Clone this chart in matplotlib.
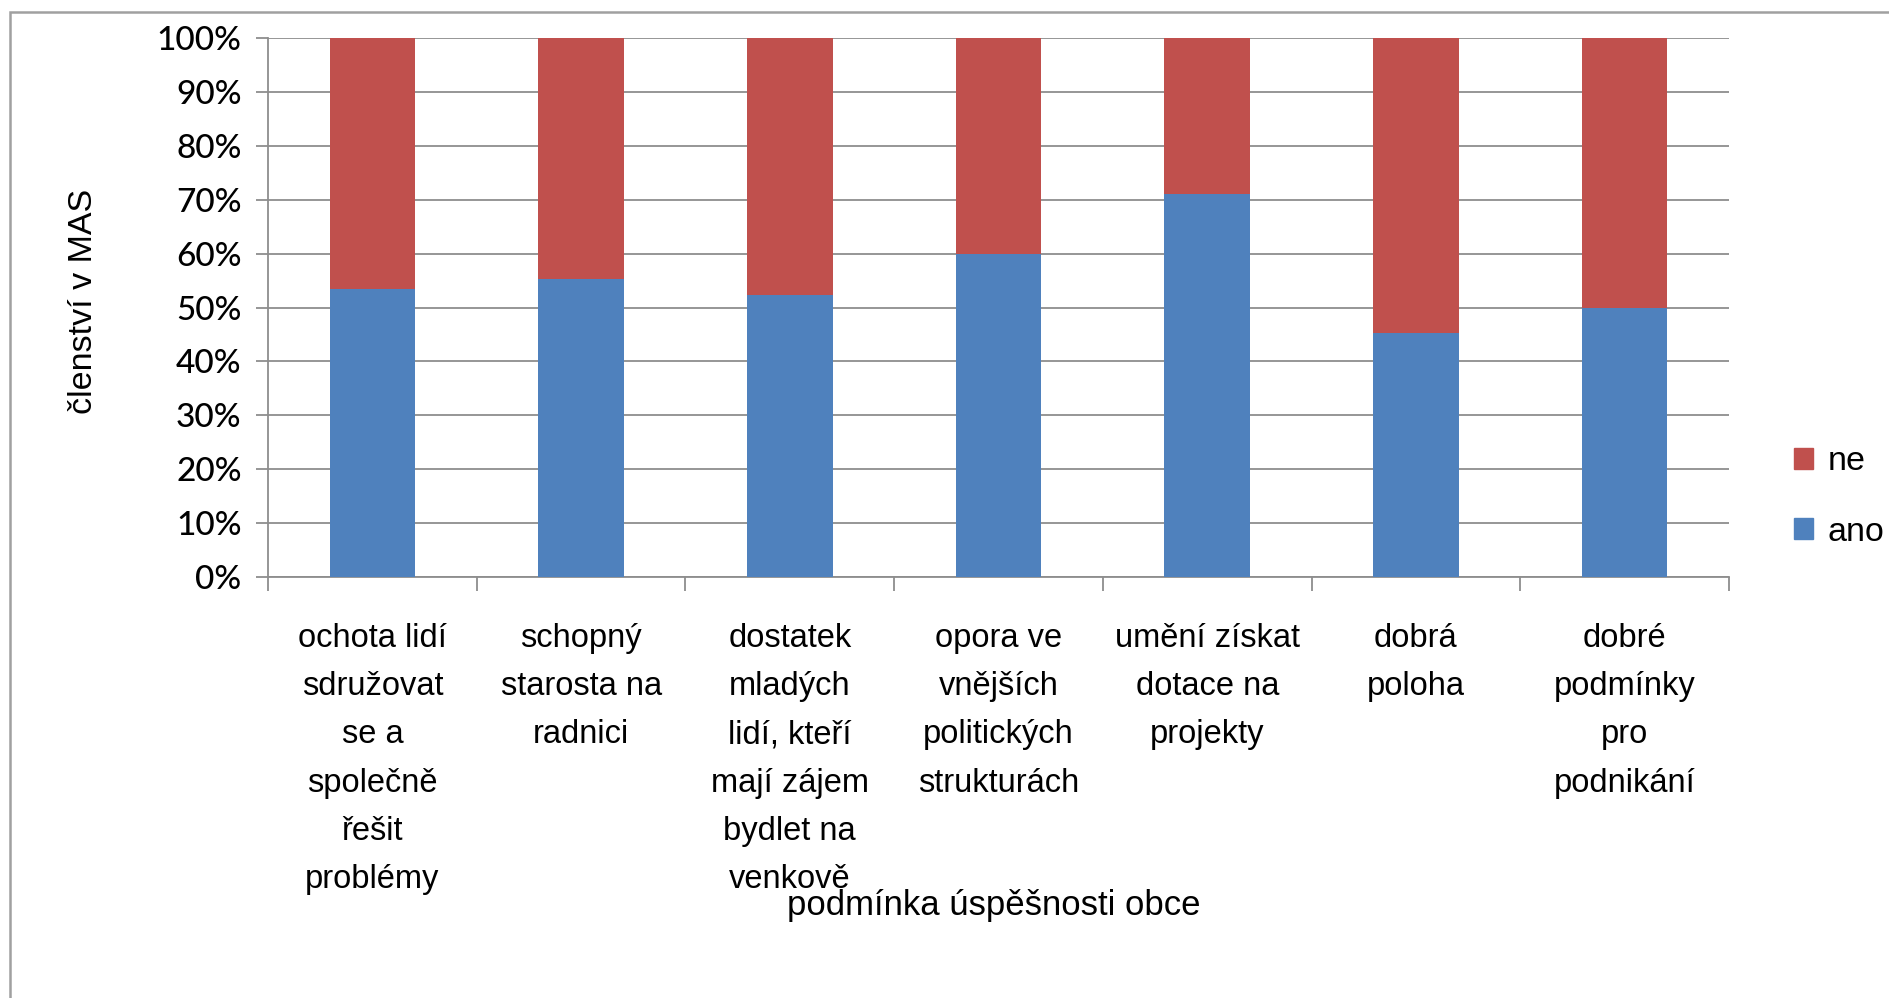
import matplotlib
matplotlib.use("Agg")
import matplotlib.pyplot as plt
from matplotlib.patches import Patch, Rectangle
from matplotlib.ticker import PercentFormatter, FixedLocator

categories = [
    "ochota lidí\nsdružovat\nse a\nspolečně\nřešit\nproblémy",
    "schopný\nstarosta na\nradnici",
    "dostatek\nmladých\nlidí, kteří\nmají zájem\nbydlet na\nvenkově",
    "opora ve\nvnějších\npolitických\nstrukturách",
    "umění získat\ndotace na\nprojekty",
    "dobrá\npoloha",
    "dobré\npodmínky\npro\npodnikání",
]
ano = [53.5, 55.3, 52.3, 60.0, 71.1, 45.2, 50.0]
ne = [100 - v for v in ano]
yticks = [0, 10, 20, 30, 40, 50, 60, 70, 80, 90, 100]
colors = {"ano": "#4F81BD", "ne": "#C0504D"}

W, H = 1889, 998
fig = plt.figure(figsize=(W / 100, H / 100), dpi=100)
fig.patch.set_facecolor("white")

sans = ["Liberation Sans", "DejaVu Sans"]
tickfont = ["Lato", "DejaVu Sans"]

left, right, top, bottom = 268, 1729, 38, 577
ax = fig.add_axes([left / W, 1 - bottom / H, (right - left) / W, (bottom - top) / H])

x = list(range(len(categories)))
ax.bar(x, ano, width=0.41, color=colors["ano"], zorder=3)
ax.bar(x, ne, width=0.41, bottom=ano, color=colors["ne"], zorder=3)

ax.set_xlim(-0.5, len(categories) - 0.5)
ax.set_ylim(0, 100)
ax.yaxis.set_major_locator(FixedLocator(yticks))
ax.yaxis.set_major_formatter(PercentFormatter(decimals=0))
ax.grid(axis="y", color="#8e8e8e", linewidth=1.3, zorder=0)

for s in ["top", "right"]:
    ax.spines[s].set_visible(False)
ax.spines["left"].set_color("#8e8e8e")
ax.spines["bottom"].set_color("#8e8e8e")
ax.spines["left"].set_linewidth(1.3)
ax.spines["bottom"].set_linewidth(1.3)

ax.tick_params(axis="y", length=9, width=1.3, color="#8e8e8e", pad=10,
               labelsize=24, labelcolor="black")
for lab in ax.get_yticklabels():
    lab.set_family(tickfont)
    lab.set_weight("medium")

ax.set_xticks(x)
ax.set_xticklabels(categories, family=sans, fontsize=23.5, linespacing=1.72, va="top")
ax.tick_params(axis="x", which="major", length=0, pad=33)
ax.set_xticks([i - 0.5 for i in range(len(categories) + 1)], minor=True)
ax.tick_params(axis="x", which="minor", length=10, width=1.3, color="#8e8e8e")

fig.text(84 / W, 1 - 301 / H, "členství v MAS", rotation=90, ha="center", va="center",
         family=sans, fontsize=24.5)
fig.text(994 / W, 1 - 906 / H, "podmínka úspěšnosti obce", ha="center", va="center",
         family=sans, fontsize=25)

handles = [Patch(color=colors["ne"]), Patch(color=colors["ano"])]
fig.legend(handles, ["ne", "ano"], loc="center left",
           bbox_to_anchor=(1763 / W, 1 - 497 / H), frameon=False,
           handlelength=0.58, handleheight=0.58, labelspacing=1.15, handletextpad=0.42,
           prop={"family": sans, "size": 24.5})

fig.add_artist(Rectangle((10 / W, -0.1), 1.2, (1 - 12 / H) + 0.1, transform=fig.transFigure,
                         fill=False, edgecolor="#a0a0a0", linewidth=1.8))

fig.savefig("out.png", dpi=100)
